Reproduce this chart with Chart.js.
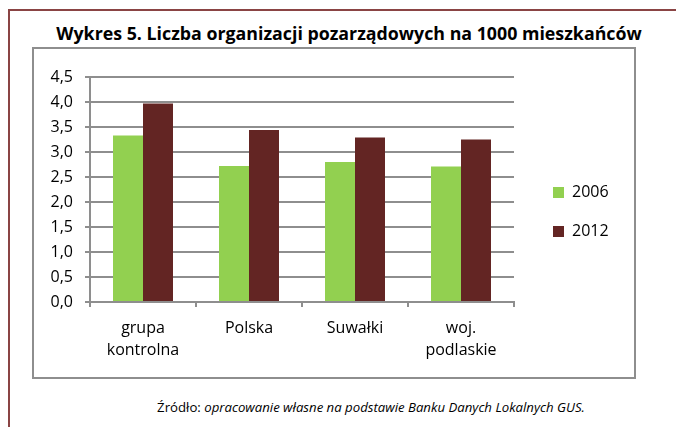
<!DOCTYPE html>
<html>
<head>
<meta charset="utf-8">
<script src="https://cdn.jsdelivr.net/npm/chart.js@4"></script>
<style>
    body { margin: 0; background: #fff; font-family: "Open Sans", sans-serif; }
    #page { position: relative; width: 676px; height: 427px; overflow: hidden; }
    #frame { position: absolute; left: 8px; top: 9px; width: 720px; height: 520px; border-top: 2px solid #8a4444; border-left: 2px solid #8a4444; }
    #title { position: absolute; left: 349px; top: 20px; transform: translateX(-50%); white-space: nowrap; font-weight: bold; font-size: 17.8px; line-height: 26px; color: #000; }
    #box { position: absolute; left: 32px; top: 47px; width: 604px; height: 332px; border: 2px solid #8e8e8e; box-sizing: border-box; }
    #chartWrap { position: absolute; left: 34px; top: 49px; width: 598px; height: 326px; }
    #source { position: absolute; left: 371px; top: 398px; transform: translateX(-50%); white-space: nowrap; font-size: 13.2px; color: #000; }
</style>
</head>
<body>
<div id="page">
    <div id="frame"></div>
    <div id="title">Wykres 5. Liczba organizacji pozarządowych na 1000 mieszkańców</div>
    <div id="box"></div>
    <div id="chartWrap"><canvas id="myChart" width="598" height="326"></canvas></div>
    <div id="source">Źródło: <i>opracowanie własne na podstawie Banku Danych Lokalnych GUS.</i></div>
</div>
<script>
const categories = [['grupa', 'kontrolna'], 'Polska', 'Suwałki', ['woj.', 'podlaskie']];
const values2006 = [3.33, 2.72, 2.80, 2.71];
const values2012 = [3.97, 3.44, 3.29, 3.25];
const seriesNames = ['2006', '2012'];

const ctx = document.getElementById('myChart');

// legend sits centred on the whole box, a bit away from the plot
const legendSpot = {
    id: 'legendSpot',
    afterLayout(chart) {
        const lg = chart.legend;
        lg.left += 16;
        lg.right += 16;
        lg.top = 0;
        lg.bottom = chart.height;
        lg.height = chart.height;
    }
};

const gridColor = '#8e8e8e';
const tickFont = { family: 'Open Sans', size: 16, lineHeight: '22px' };

const myChart = new Chart(ctx, {
    type: 'bar',
    data: {
        labels: categories,
        datasets: [{
            label: seriesNames[0],
            data: values2006,
            backgroundColor: '#92d050',
            borderWidth: 0
        }, {
            label: seriesNames[1],
            data: values2012,
            backgroundColor: '#632523',
            borderWidth: 0
        }]
    },
    options: {
        responsive: false,
        animation: false,
        categoryPercentage: 0.566,
        barPercentage: 1,
        layout: { padding: { top: 28, right: 30, bottom: 0, left: 0 } },
        plugins: {
            legend: {
                position: 'right',
                maxWidth: 88,
                labels: {
                    boxWidth: 11,
                    boxHeight: 11,
                    padding: 23,
                    color: '#000',
                    font: { family: 'Open Sans', size: 16 }
                }
            },
            tooltip: { enabled: false }
        },
        scales: {
            x: {
                grid: { display: true, drawOnChartArea: false, tickLength: 5, color: gridColor, lineWidth: 2 },
                border: { color: gridColor, width: 2 },
                ticks: { color: '#000', font: tickFont, padding: 10, maxRotation: 0 },
                afterFit(scale) { scale.height = 73; }
            },
            y: {
                min: 0,
                max: 4.5,
                grid: { color: gridColor, lineWidth: 2, tickLength: 5 },
                border: { color: gridColor, width: 2 },
                ticks: {
                    stepSize: 0.5,
                    color: '#000',
                    font: tickFont,
                    padding: 12,
                    callback: v => v.toFixed(1).replace('.', ',')
                },
                afterFit(scale) { scale.width = 56; }
            }
        }
    },
    plugins: [legendSpot]
});
</script>
</body>
</html>
